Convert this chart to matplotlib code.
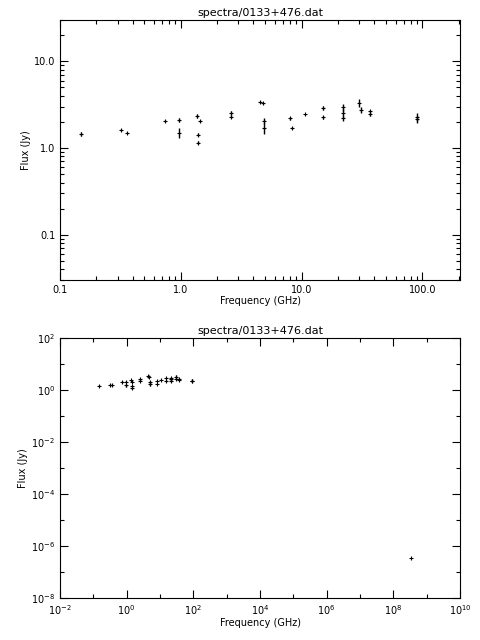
import matplotlib
matplotlib.use("Agg")
import matplotlib.pyplot as plt
from matplotlib.ticker import LogLocator, FixedLocator, FixedFormatter, NullFormatter

freq = [0.15, 0.32, 0.36, 0.74, 0.96, 0.96, 1.36, 1.40, 1.40, 1.45, 2.6, 2.6, 4.5, 4.8, 4.85, 4.85,
        8.0, 8.4, 10.7, 15.0, 15.0, 22.0, 22.0, 22.0, 30.0, 31.0, 37.0, 37.0, 90.0, 90.0]
flux = [1.45, 1.62, 1.50, 2.05, 2.10, 1.50, 2.35, 1.42, 1.15, 2.05, 2.55, 2.30, 3.40, 3.30, 2.05, 1.70,
        2.20, 1.70, 2.45, 2.90, 2.25, 2.95, 2.55, 2.20, 3.30, 2.75, 2.65, 2.45, 2.30, 2.15]
err = [0.07, 0.05, 0.05, 0.08, 0.10, 0.18, 0.12, 0.06, 0.05, 0.08, 0.15, 0.08, 0.05, 0.05, 0.15, 0.25,
       0.07, 0.05, 0.05, 0.12, 0.10, 0.25, 0.25, 0.15, 0.35, 0.2, 0.12, 0.1, 0.25, 0.2]
extra_freq = [3.5e8]
extra_flux = [3.5e-7]
title = "spectra/0133+476.dat"

fig = plt.figure(figsize=(4.8, 6.4), dpi=100)
fs = 7
ax1 = fig.add_axes([60/480, 1-280/640, 400/480, 260/640])
ax2 = fig.add_axes([60/480, 1-598/640, 400/480, 260/640])

for ax in (ax1, ax2):
    ax.errorbar(freq, flux, yerr=err, fmt='+', color='black', ms=3, mew=0.8, elinewidth=1, capsize=0)
    ax.set_xscale('log'); ax.set_yscale('log')
    ax.set_title(title, fontsize=8, pad=3)
    ax.set_xlabel("Frequency (GHz)", fontsize=fs, labelpad=1)
    ax.set_ylabel("Flux (Jy)", fontsize=fs, labelpad=2)
    ax.tick_params(which='both', direction='in', top=True, right=True, labelsize=fs, width=0.8)
    ax.tick_params(which='major', length=6)
    ax.tick_params(which='minor', length=3)
    for s in ax.spines.values():
        s.set_linewidth(0.8)

ax2.plot(extra_freq, extra_flux, '+', color='black', ms=3, mew=0.8)

ax1.set_xlim(0.1, 205)
ax1.set_ylim(0.03, 30)
ax1.xaxis.set_major_locator(FixedLocator([0.1, 1, 10, 100]))
ax1.xaxis.set_major_formatter(FixedFormatter(["0.1", "1.0", "10.0", "100.0"]))
ax1.yaxis.set_major_locator(FixedLocator([0.1, 1, 10]))
ax1.yaxis.set_major_formatter(FixedFormatter(["0.1", "1.0", "10.0"]))
for a in (ax1.xaxis, ax1.yaxis):
    a.set_minor_locator(LogLocator(base=10, subs=range(2, 10)))
    a.set_minor_formatter(NullFormatter())

ax2.set_xlim(1e-2, 1e10)
ax2.set_ylim(1e-8, 1e2)
xt = [10.0**k for k in range(-2, 11, 2)]
yt = [10.0**k for k in range(-8, 3, 2)]
ax2.xaxis.set_major_locator(FixedLocator(xt))
ax2.xaxis.set_major_formatter(FixedFormatter([f"10$^{{{k}}}$" for k in range(-2, 11, 2)]))
ax2.yaxis.set_major_locator(FixedLocator(yt))
ax2.yaxis.set_major_formatter(FixedFormatter([f"10$^{{{k}}}$" for k in range(-8, 3, 2)]))
ax2.xaxis.set_minor_locator(FixedLocator([10.0**k for k in range(-1, 10, 2)]))
ax2.yaxis.set_minor_locator(FixedLocator([10.0**k for k in range(-7, 2, 2)]))
ax2.xaxis.set_minor_formatter(NullFormatter()); ax2.yaxis.set_minor_formatter(NullFormatter())

fig.savefig("out.png", dpi=100)
